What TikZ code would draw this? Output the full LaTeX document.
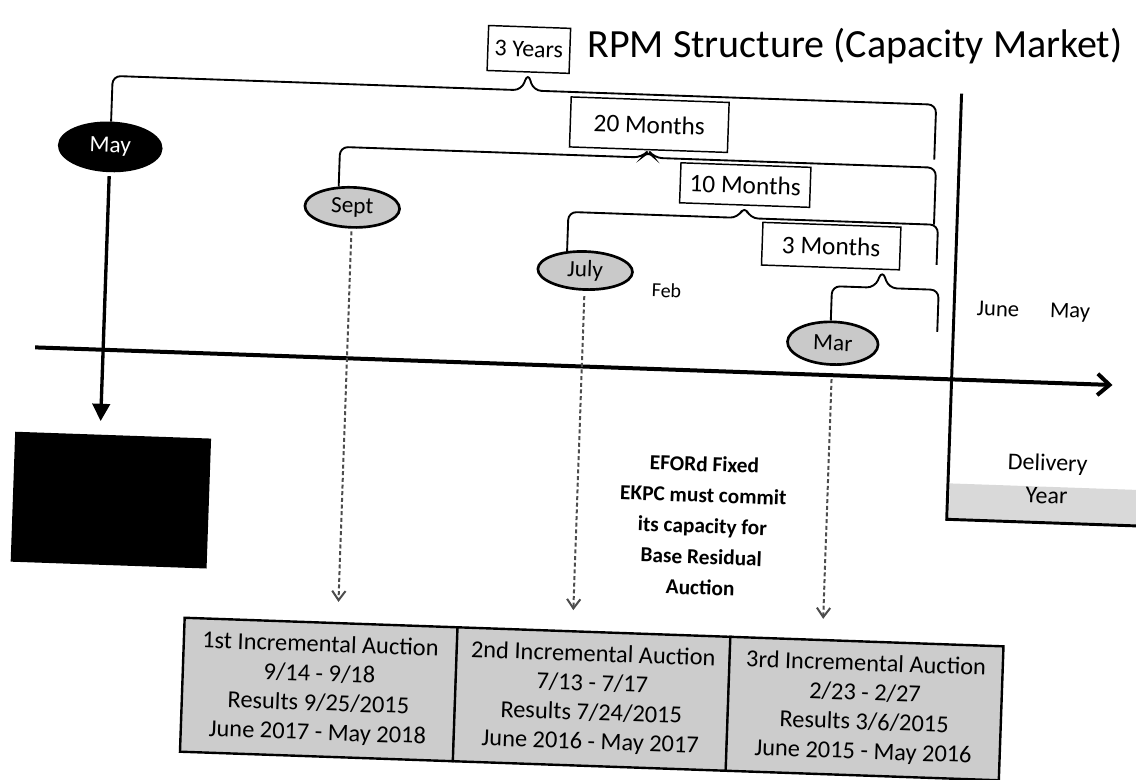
\documentclass[tikz,border=0pt]{standalone}
\usepackage{fontspec}
\setmainfont{Carlito}
\usetikzlibrary{shapes.geometric,arrows.meta,calc}
\begin{document}
\begin{tikzpicture}[x=0.75pt,y=-0.75pt,
  lbl/.style={draw=black,fill=white,line width=1.1pt,inner sep=0pt,font=\fontsize{19}{21}\selectfont},
  ell/.style={ellipse,draw=black,line width=2pt,fill=gray!42,inner sep=0pt,font=\fontsize{17.5}{19}\selectfont},
  brace/.style={line width=1.4pt,rounded corners=6pt},
  auction/.style={draw=black,line width=1.8pt,fill=gray!40,minimum width=205pt,minimum height=100.5pt,inner sep=0pt,align=center,font=\fontsize{18.3}{22}\selectfont},
  dotarrow/.style={line width=1.5pt,draw=black!70,dash pattern=on 3pt off 2pt,-{Straight Barb[length=7pt,width=10pt]}},
  axisline/.style={line width=3pt,-{Straight Barb[length=9pt,width=16pt]}},
  plain/.style={font=\fontsize{17}{20}\selectfont},
]
\useasboundingbox (0,0) rectangle (1136,779);
% title (level)
\node[font=\fontsize{30}{36}\selectfont] (title) at (855,46) {RPM Structure (Capacity Market)};
\begin{scope}[rotate around={-2:(568,390)},transform shape]
  % duration boxes
  \node[lbl,font=\fontsize{18}{20}\selectfont,minimum width=61.5pt,minimum height=33.75pt] (y3) at (517,51) {3 Years};
  \node[lbl,minimum width=118.5pt,minimum height=37.5pt] (m20) at (640,122) {20 Months};
  \node[lbl,minimum width=97.5pt,minimum height=30pt] (m10) at (738,179) {10 Months};
  \node[lbl,minimum width=103.5pt,minimum height=32pt] (m3) at (826,237) {3 Months};
  % ellipses
  \node[ell,fill=black,text=white,minimum width=76.5pt,minimum height=36pt] (may) at (102,163) {May};
  \node[ell,minimum width=71pt,minimum height=30pt] (sept) at (346,215) {Sept};
  \node[ell,minimum width=71pt,minimum height=28.5pt] (july) at (581,270) {July};
  \node[ell,minimum width=68pt,minimum height=32pt] (mar) at (831,334) {Mar};
  % brace right ends
  \coordinate (rA) at (926,147);
  \coordinate (rB) at (928,212);
  \coordinate (rC) at (932,252);
  \coordinate (rD) at (935,319);
  % braces
  \draw[brace] (may.north) |- (511,92) -- (y3.south) -- (523,92) -| (rA);
  \draw[brace] (sept.125) |- (634,155) -- (m20.south) -- (646,155) -| (rB);
  \draw[brace] (july.135) |- (732,212) -- (m10.south) -- (744,212) -| (rC);
  \draw[brace] (mar.97) |- (871,277) -- ($(m3.south)+(52,0)$) -- (885,277) -| (rD);
  % delivery year frame
  \fill[gray!30] (953,470) rectangle (1160,505);
  \coordinate (vt) at (951,80);
  \coordinate (vb) at (951,506);
  \coordinate (ve) at (1160,506);
  \draw[line width=2.2pt] (vt) -- (vb) -- (ve);
  \node[align=center,font=\fontsize{18}{24.75}\selectfont] (dy) at (1050,462) {Delivery\\Year};
  % time axis
  \coordinate (axL) at (34,366);
  \coordinate (axR) at (1112,366);
  \draw[axisline] (axL) -- (axR);
  % axis labels
  \node[plain] (jun) at (995,294) {June};
  \node[plain] (mayl) at (1067,295) {May};
  \node[font=\fontsize{15}{17}\selectfont] (feb) at (663,287) {Feb};
  % EFORd note
  \node[align=center,font=\bfseries\fontsize{16}{23.2}\selectfont] (note) at (707,521)
    {EFORd Fixed\\EKPC must commit\\its capacity for\\Base Residual\\Auction};
  % black box and thick arrow
  \node[fill=black,minimum width=147pt,minimum height=97.5pt,inner sep=0pt] (bb) at (115,516) {};
  \draw[line width=2.5pt,-{Triangle[length=13pt,width=13pt]},shorten <=3pt,shorten >=10pt] (may.south) -- (may.south |- bb.north);
  % auction boxes
  \node[auction] (a1) at (329.5,698) {1st Incremental Auction\\9/14 - 9/18\\Results 9/25/2015\\June 2017 - May 2018};
  \node[auction] (a2) at (602.5,698) {2nd Incremental Auction\\7/13 - 7/17\\Results 7/24/2015\\June 2016 - May 2017};
  \node[auction] (a3) at (875.5,698) {3rd Incremental Auction\\2/23 - 2/27\\Results 3/6/2015\\June 2015 - May 2016};
  % dotted arrows
  \draw[dotarrow,shorten <=2pt,shorten >=15pt] (sept.south) -- (sept.south |- a1.north);
  \draw[dotarrow,shorten <=4pt,shorten >=15pt] (july.south) -- (july.south |- a2.north);
  \draw[dotarrow,shorten <=10pt,shorten >=15pt] (mar.south) -- (mar.south |- a3.north);
\end{scope}
\end{tikzpicture}
\end{document}
